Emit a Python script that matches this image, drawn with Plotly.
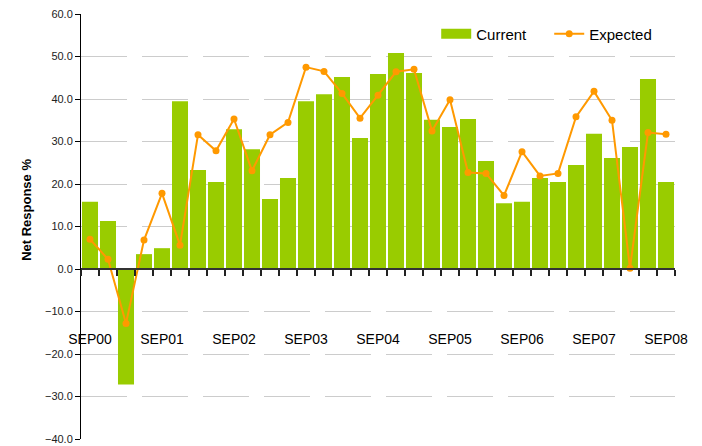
import plotly.graph_objects as go

quarters = []
for yr in range(0, 9):
    for m in ["SEP", "DEC", "MAR", "JUN"]:
        y = yr if m in ("SEP", "DEC") else yr + 1
        quarters.append(f"{m}{y:02d}")
quarters = quarters[:33]

current = [15.8, 11.3, -27.2, 3.5, 4.9, 39.5, 23.3, 20.5, 32.9, 28.2, 16.5, 21.4,
           39.5, 41.1, 45.2, 30.8, 45.9, 50.8, 46.1, 35.1, 33.4, 35.3, 25.4, 15.5,
           15.8, 21.4, 20.5, 24.5, 31.8, 26.1, 28.7, 44.7, 20.5]
expected = [7.0, 2.3, -12.8, 6.8, 17.8, 5.6, 31.6, 27.8, 35.3, 23.1, 31.6, 34.5,
            47.5, 46.5, 41.3, 35.5, 40.9, 46.4, 47.0, 32.5, 39.8, 22.7, 22.5, 17.3,
            27.6, 21.9, 22.5, 35.8, 41.8, 35.0, 0.2, 32.1, 31.7]
tick_text = [q if q.startswith("SEP") else "" for q in quarters]
y_ticks = [-40, -30, -20, -10, 0, 10, 20, 30, 40, 50, 60]

FONT = "Liberation Sans, Arial, sans-serif"
GREEN = "#99CC00"
ORANGE = "#FF9900"

fig = go.Figure()
fig.add_trace(go.Bar(x=quarters, y=current, name="Current", showlegend=False,
                     marker=dict(color=GREEN, line=dict(width=0))))
# legend-only entry to show a wide colour swatch
fig.add_trace(go.Scatter(x=[None], y=[None], name="Current", mode="lines",
                         line=dict(color=GREEN, width=10)))
fig.add_trace(go.Scatter(x=quarters, y=expected, name="Expected", mode="lines+markers",
                         line=dict(color=ORANGE, width=2),
                         marker=dict(color=ORANGE, size=7)))

fig.update_layout(
    width=694, height=438,
    margin=dict(l=73, r=27, t=6, b=7),
    paper_bgcolor="white", plot_bgcolor="white",
    bargap=0.11,
    font=dict(family=FONT, color="#000"),
    showlegend=True,
    legend=dict(orientation="h", x=0.598, y=0.953, xanchor="left", yanchor="middle",
                font=dict(size=15, color="#000"), bgcolor="rgba(0,0,0,0)",
                entrywidth=68),
    xaxis=dict(type="category", categoryorder="array", categoryarray=quarters,
               tickvals=quarters, ticktext=tick_text, tickson="boundaries",
               ticks="outside", ticklen=6, tickcolor="#222", tickwidth=1.5,
               showline=True, linecolor="#333", linewidth=2,
               showgrid=False, anchor="free", position=0.4,
               ticklabelstandoff=57, tickangle=0, automargin=False,
               ticklabeloverflow="allow",
               tickfont=dict(size=14, color="#000"),
               range=[-0.5, 32.5]),
    yaxis=dict(range=[-40, 60], tickvals=y_ticks, tickformat=".1f",
               ticks="outside", ticklen=5, tickcolor="#000",
               showline=True, linecolor="#000", linewidth=1,
               showgrid=True, gridcolor="#cccccc", gridwidth=1,
               griddash="46px,15px", zeroline=False, automargin=False,
               ticklabeloverflow="allow",
               tickfont=dict(size=11, color="#222")),
    annotations=[dict(text="<b>Net Response %</b>", textangle=-90, xref="paper", yref="paper",
                      x=-0.091, y=0.539, xanchor="center", yanchor="middle",
                      showarrow=False, font=dict(size=13, color="#000"))],
)

fig.write_html("out.html")
